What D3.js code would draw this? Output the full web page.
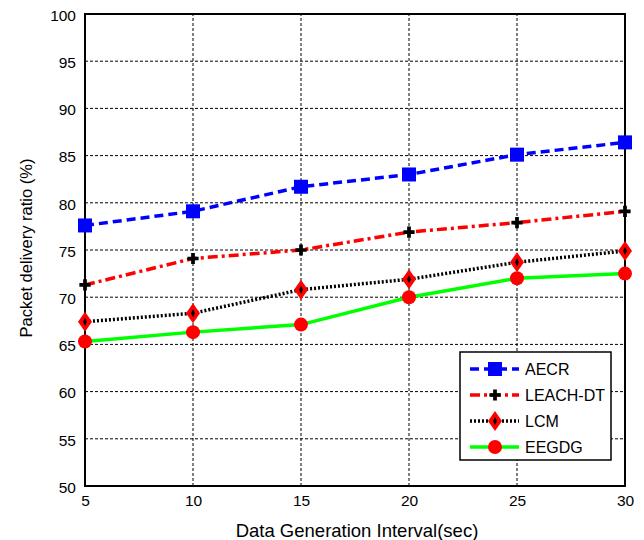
<!DOCTYPE html>
<html>
<head>
<meta charset="utf-8">
<script src="https://cdn.jsdelivr.net/npm/d3@7"></script>
<style>
  body { margin: 0; background: #fff; }
  svg { font-family: "Liberation Sans", Arial, sans-serif; }
</style>
</head>
<body>
<svg id="chart"></svg>
<script>
const intervals = [5, 10, 15, 20, 25, 30];
const aecr = [77.6, 79.1, 81.7, 83.0, 85.1, 86.4];
const leachDT = [71.3, 74.1, 75.0, 76.9, 77.9, 79.1];
const lcm = [67.4, 68.3, 70.8, 71.9, 73.7, 74.9];
const eegdg = [65.3, 66.3, 67.1, 70.0, 72.0, 72.5];
const yTicks = [50, 55, 60, 65, 70, 75, 80, 85, 90, 95, 100];

const width = 644;
const height = 540;
const margin = { top: 14, right: 19, bottom: 54, left: 85 };

const svg = d3.select("#chart")
  .attr("width", width)
  .attr("height", height);

const x = d3.scaleLinear()
  .domain([5, 30])
  .range([margin.left, width - margin.right]);

const y = d3.scaleLinear()
  .domain([50, 100])
  .range([height - margin.bottom, margin.top]);

// grid
svg.append("g")
  .selectAll("line")
  .data(intervals.slice(1, -1))
  .join("line")
  .attr("x1", d => x(d)).attr("x2", d => x(d))
  .attr("y1", y(50)).attr("y2", y(100))
  .attr("stroke", "#000").attr("stroke-width", 1)
  .attr("stroke-dasharray", "3,2");

svg.append("g")
  .selectAll("line")
  .data(yTicks.slice(1, -1))
  .join("line")
  .attr("x1", x(5)).attr("x2", x(30))
  .attr("y1", d => y(d)).attr("y2", d => y(d))
  .attr("stroke", "#000").attr("stroke-width", 1)
  .attr("stroke-dasharray", "3,2");

// axes
const xAxis = d3.axisBottom(x).tickValues(intervals).tickSize(0).tickPadding(9);
const yAxis = d3.axisLeft(y).tickValues(yTicks).tickSize(0).tickPadding(9);

svg.append("g")
  .attr("transform", `translate(0, ${y(50)})`)
  .call(xAxis)
  .call(g => g.select(".domain").remove())
  .selectAll("text")
  .attr("font-size", 15.5).attr("fill", "#000")
  .attr("font-family", "Liberation Sans, Arial, sans-serif");

svg.append("g")
  .attr("transform", `translate(${x(5)}, 0)`)
  .call(yAxis)
  .call(g => g.select(".domain").remove())
  .selectAll("text")
  .attr("font-size", 15.5).attr("fill", "#000")
  .attr("dy", "0.4em")
  .attr("font-family", "Liberation Sans, Arial, sans-serif");

svg.append("rect")
  .attr("x", x(5)).attr("y", y(100))
  .attr("width", x(30) - x(5)).attr("height", y(50) - y(100))
  .attr("fill", "none").attr("stroke", "#000").attr("stroke-width", 2);

svg.append("text")
  .attr("x", (x(5) + x(30)) / 2 + 2).attr("y", 537)
  .attr("text-anchor", "middle").attr("font-size", 18.5)
  .text("Data Generation Interval(sec)");

svg.append("text")
  .attr("transform", `translate(32, ${(y(50) + y(100)) / 2 - 2}) rotate(-90)`)
  .attr("text-anchor", "middle").attr("font-size", 16.5)
  .text("Packet delivery ratio (%)");

// markers
function drawMarker(g, type, cx, cy) {
  if (type === "square") {
    g.append("rect").attr("x", cx - 7).attr("y", cy - 7)
      .attr("width", 14).attr("height", 14).attr("fill", "#0000ff");
  } else if (type === "plus") {
    g.append("path")
      .attr("d", d3.symbol(d3.symbolCross, 70)())
      .attr("transform", `translate(${cx},${cy})`)
      .attr("fill", "#000");
  } else if (type === "diamond") {
    g.append("path")
      .attr("d", `M${cx},${cy - 10}L${cx + 7},${cy}L${cx},${cy + 10}L${cx - 7},${cy}Z`)
      .attr("fill", "#ff0000");
    g.append("path")
      .attr("d", `M${cx},${cy - 4}L${cx + 2},${cy}L${cx},${cy + 4}L${cx - 2},${cy}Z`)
      .attr("fill", "#000");
  } else if (type === "circle") {
    g.append("circle").attr("cx", cx).attr("cy", cy).attr("r", 7).attr("fill", "#ff0000");
  }
}

const series = [
  { name: "AECR", values: aecr, color: "#0000ff", dash: "9,5", marker: "square" },
  { name: "LEACH-DT", values: leachDT, color: "#ff0000", dash: "10,4,3,4", marker: "plus" },
  { name: "LCM", values: lcm, color: "#000", dash: "2,2", marker: "diamond" },
  { name: "EEGDG", values: eegdg, color: "#00ff00", dash: null, marker: "circle" }
];

const line = d3.line()
  .x((d, i) => x(intervals[i]))
  .y(d => y(d));

series.forEach(s => {
  svg.append("path")
    .datum(s.values)
    .attr("d", line)
    .attr("fill", "none")
    .attr("stroke", s.color)
    .attr("stroke-width", 3.5)
    .attr("stroke-dasharray", s.dash);
  const g = svg.append("g");
  s.values.forEach((v, i) => drawMarker(g, s.marker, x(intervals[i]), y(v)));
});

// legend
const legend = svg.append("g");
legend.append("rect")
  .attr("x", 460).attr("y", 352).attr("width", 151).attr("height", 108)
  .attr("fill", "#fff").attr("stroke", "#000").attr("stroke-width", 1.5);

series.forEach((s, i) => {
  const ly = 369 + i * 26;
  legend.append("line")
    .attr("x1", 470).attr("x2", 519).attr("y1", ly).attr("y2", ly)
    .attr("stroke", s.color).attr("stroke-width", 3.5)
    .attr("stroke-dasharray", s.dash);
  drawMarker(legend, s.marker, 495, ly);
  legend.append("text")
    .attr("x", 525).attr("y", ly).attr("dy", "0.36em")
    .attr("font-size", 16)
    .text(s.name);
});
</script>
</body>
</html>
